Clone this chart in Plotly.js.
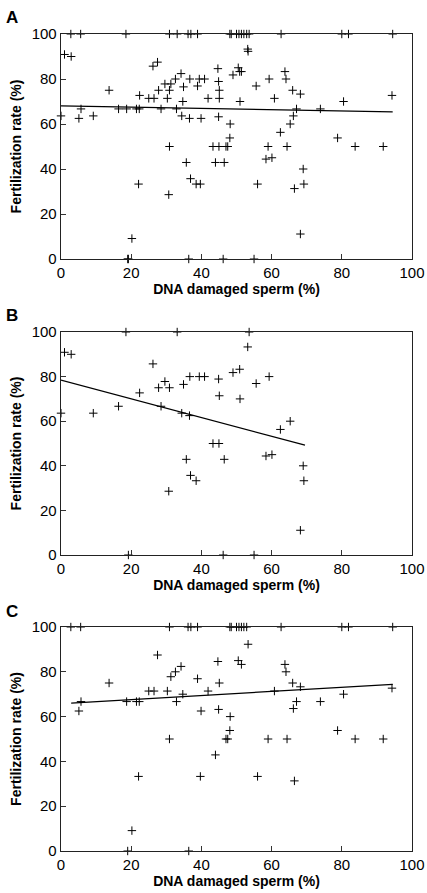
<!DOCTYPE html>
<html><head><meta charset="utf-8">
<script src="https://cdn.plot.ly/plotly-3.0.1.min.js"></script>
<style>html,body{margin:0;padding:0;background:#fff}#chart{width:427px;height:893px}</style>
</head><body><div id="chart"></div>
<script>
// Panel B points
const bX = [18.5, 33.1, 53.6, 1.0, 2.9, 26.2, 49.0, 36.7, 39.4, 40.9, 44.9, 29.6, 27.8, 30.9, 34.9, 22.4, 45.1, 16.4, 28.5, 0, 9.2, 34.4, 36.6, 53.2, 50.9, 59.3, 55.6, 51.0, 65.3, 62.5, 43.3, 45.0, 35.7, 46.5, 36.9, 38.5, 30.7, 19.2, 46.2, 58.4, 60.1, 69.0, 69.2, 68.2, 55.0];
const bY = [100, 100, 100, 90.9, 90.0, 85.7, 81.8, 80.0, 80.0, 80.0, 78.9, 77.8, 75.0, 75.0, 76.5, 72.7, 71.4, 66.7, 66.7, 63.6, 63.6, 63.6, 62.5, 93.3, 83.3, 80.0, 76.9, 70.0, 60.0, 56.3, 50.0, 50.0, 42.9, 42.9, 35.7, 33.3, 28.6, 0, 0, 44.4, 45.0, 40.0, 33.3, 11.1, 0];
// Panel C points
const cX = [2.8, 5.6, 30.9, 36.2, 37.0, 38.9, 48.5, 48.1, 50.0, 50.7, 51.4, 52.1, 52.9, 62.7, 80.0, 81.9, 94.5,
  27.5, 34.2, 32.6, 31.3, 44.7, 38.9, 45.1, 13.7, 25.0, 26.5, 30.3, 41.9, 34.7, 5.7, 18.7, 21.5, 22.3, 32.9, 5.1, 39.9, 44.9, 48.2,
  53.3, 50.5, 51.4, 63.8, 64.1, 66.0, 68.2, 60.8, 80.5, 94.3, 67.1, 73.9, 66.2,
  48.1, 30.9, 47.0, 47.5, 44.0, 22.1, 39.7, 20.2, 19.0, 36.4,
  78.8, 59.0, 64.4, 83.8, 91.8, 56.0, 66.5];
const cY = [100, 100, 100, 100, 100, 100, 100, 100, 100, 100, 100, 100, 100, 100, 100, 100, 100,
  87.5, 82.4, 80.0, 77.8, 84.6, 76.9, 75.0, 75.0, 71.4, 71.4, 71.4, 71.4, 70.0, 66.7, 66.7, 66.7, 66.7, 66.7, 62.5, 62.5, 63.2, 60.0,
  92.3, 85.0, 83.3, 83.3, 80.0, 75.0, 73.3, 71.4, 70.0, 72.7, 66.7, 66.7, 63.6,
  53.8, 50.0, 50.0, 50.0, 42.9, 33.3, 33.3, 9.1, 0, 0,
  53.8, 50.0, 50.0, 50.0, 50.0, 33.3, 31.3];
// Panel A = all points
const aX = bX.concat(cX);
const aY = bY.concat(cY);
// Regression lines (endpoints)
const fitAX = [0, 94.5], fitAY = [68.1, 65.4];
const fitBX = [0, 69.5], fitBY = [78.4, 49.3];
const fitCX = [2.9, 94.5], fitCY = [66.0, 74.4];
const tickVals = [0, 20, 40, 60, 80, 100];
const panelLabels = ['A', 'B', 'C'];
const xTitle = 'DNA damaged sperm (%)';
const yTitle = 'Fertilization rate (%)';

const H = 893;
const panelPx = [[34, 259], [332, 555], [627, 851]];
const FONT = 'Liberation Sans, Arial, sans-serif';

const sets = [[aX, aY, fitAX, fitAY], [bX, bY, fitBX, fitBY], [cX, cY, fitCX, fitCY]];
const data = [];
sets.forEach((s, i) => {
  const sfx = i === 0 ? '' : String(i + 1);
  data.push({x: s[0], y: s[1], type: 'scatter', mode: 'markers', xaxis: 'x' + sfx, yaxis: 'y' + sfx,
    cliponaxis: false, hoverinfo: 'x+y',
    marker: {symbol: 'cross-thin', size: 6, color: '#000', line: {color: '#000', width: 1}}});
  data.push({x: s[2], y: s[3], type: 'scatter', mode: 'lines', xaxis: 'x' + sfx, yaxis: 'y' + sfx,
    line: {color: '#000', width: 1.2}, hoverinfo: 'skip'});
});

const layout = {
  width: 427, height: 893, showlegend: false,
  paper_bgcolor: '#fff', plot_bgcolor: '#fff',
  margin: {l: 61, r: 15, t: 0, b: 0},
  font: {family: FONT, color: '#000', size: 14},
  annotations: []
};
panelPx.forEach((p, i) => {
  const sfx = i === 0 ? '' : String(i + 1);
  const anchorY = 'y' + sfx, anchorX = 'x' + sfx;
  layout['xaxis' + sfx] = {
    anchor: anchorY, domain: [0, 1], range: [0, 100], tickvals: tickVals, ticktext: tickVals.map(String),
    ticks: 'inside', ticklen: 5, tickcolor: '#333', showline: true, linecolor: '#222', linewidth: 1.3, mirror: true,
    showgrid: false, zeroline: false, tickfont: {size: 15, family: FONT},
    title: {text: '<b>' + xTitle + '</b>', font: {size: 14, family: FONT}, standoff: 4}
  };
  layout['yaxis' + sfx] = {
    anchor: anchorX, domain: [1 - p[1] / H, 1 - p[0] / H], range: [0, 100], tickvals: tickVals, ticktext: tickVals.map(String),
    ticks: 'inside', ticklen: 5, tickcolor: '#333', showline: true, linecolor: '#222', linewidth: 1.3, mirror: true,
    showgrid: false, zeroline: false, tickfont: {size: 15, family: FONT},
    title: {text: '<b>' + yTitle + '</b>', font: {size: 14, family: FONT}, standoff: 6}
  };
  layout.annotations.push({text: '<b>' + panelLabels[i] + '</b>', xref: 'paper', yref: 'paper',
    x: (4 - 61) / 351, y: 1 - (p[0] - 16) / H, xanchor: 'left', yanchor: 'middle', showarrow: false,
    font: {size: 17, family: FONT}});
});

Plotly.newPlot('chart', data, layout, {displayModeBar: false, staticPlot: true});
</script></body></html>
